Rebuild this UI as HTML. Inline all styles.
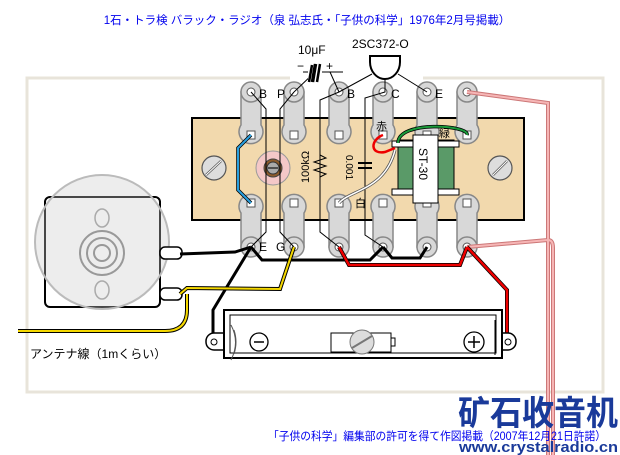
<!DOCTYPE html>
<html><head><meta charset="utf-8"><style>
body{margin:0;background:#fff;width:620px;height:455px;overflow:hidden}
svg{display:block}
text{font-family:"Liberation Sans","Noto Sans CJK JP",sans-serif}
</style></head><body>
<svg width="620" height="455" viewBox="0 0 620 455" xmlns="http://www.w3.org/2000/svg">
<text x="307" y="24" font-size="11.5" fill="#0000ee" text-anchor="middle" font-family="Liberation Sans,Noto Sans CJK JP,sans-serif">1石・トラ検 バラック・ラジオ（泉 弘志氏・「子供の科学」1976年2月号掲載）</text>
<path d="M290 78 H27 V392 H603 V78 H423" fill="none" stroke="#e8e4da" stroke-width="3"/>
<rect x="192" y="118" width="332" height="102" fill="#f2d9ad" stroke="#000" stroke-width="2"/>
<g stroke="#555" stroke-width="1.2" fill="#ddd">
<circle cx="214" cy="168" r="12"/><line x1="206" y1="175" x2="221" y2="161" stroke-width="2.5"/><line x1="206" y1="175" x2="221" y2="161" stroke="#fff" stroke-width="1"/>
<circle cx="500" cy="168" r="12"/><line x1="493" y1="175" x2="507" y2="161" stroke-width="2.5"/><line x1="493" y1="175" x2="507" y2="161" stroke="#fff" stroke-width="1"/>
</g>
<g>
<g stroke="#888" stroke-width="1.5" fill="#d8d8d8">
<path d="M241 92 H261 V125 A12 12 0 1 1 241 125 Z M241 247 H261 V213 A12 12 0 1 0 241 213 Z"/>
<path d="M284 92 H304 V125 A12 12 0 1 1 284 125 Z M284 247 H304 V213 A12 12 0 1 0 284 213 Z"/>
<path d="M329 92 H349 V125 A12 12 0 1 1 329 125 Z M329 247 H349 V213 A12 12 0 1 0 329 213 Z"/>
<path d="M373 92 H393 V125 A12 12 0 1 1 373 125 Z M373 247 H393 V213 A12 12 0 1 0 373 213 Z"/>
<path d="M417 92 H437 V125 A12 12 0 1 1 417 125 Z M417 247 H437 V213 A12 12 0 1 0 417 213 Z"/>
<path d="M457 92 H477 V125 A12 12 0 1 1 457 125 Z M457 247 H477 V213 A12 12 0 1 0 457 213 Z"/>
</g>
<g fill="#d8d8d8" stroke="#888" stroke-width="1.5">
<circle cx="251" cy="92" r="10"/><circle cx="294" cy="92" r="10"/><circle cx="339" cy="92" r="10"/><circle cx="383" cy="92" r="10"/><circle cx="427" cy="92" r="10"/><circle cx="467" cy="92" r="10"/>
<circle cx="251" cy="247" r="10"/><circle cx="294" cy="247" r="10"/><circle cx="339" cy="247" r="10"/><circle cx="383" cy="247" r="10"/><circle cx="427" cy="247" r="10"/><circle cx="467" cy="247" r="10"/>
</g>
<g fill="#fff" stroke="#555" stroke-width="1">
<circle cx="251" cy="92" r="4"/><circle cx="294" cy="92" r="4"/><circle cx="339" cy="92" r="4"/><circle cx="383" cy="92" r="4"/><circle cx="427" cy="92" r="4"/><circle cx="467" cy="92" r="4"/>
<circle cx="251" cy="247" r="4"/><circle cx="294" cy="247" r="4"/><circle cx="339" cy="247" r="4"/><circle cx="383" cy="247" r="4"/><circle cx="427" cy="247" r="4"/><circle cx="467" cy="247" r="4"/>
<rect x="247" y="131" width="8" height="8"/><rect x="290" y="131" width="8" height="8"/><rect x="335" y="131" width="8" height="8"/><rect x="379" y="131" width="8" height="8"/><rect x="423" y="131" width="8" height="8"/><rect x="463" y="131" width="8" height="8"/>
<rect x="247" y="199" width="8" height="8"/><rect x="290" y="199" width="8" height="8"/><rect x="335" y="199" width="8" height="8"/><rect x="379" y="199" width="8" height="8"/><rect x="423" y="199" width="8" height="8"/><rect x="463" y="199" width="8" height="8"/>
</g>
</g>
<g font-size="12" fill="#000">
<text x="259" y="98">B</text><text x="277" y="98">P</text><text x="347" y="98">B</text><text x="391" y="98">C</text><text x="435" y="98">E</text>
<text x="259" y="251">E</text><text x="276" y="251">G</text>
<text x="298" y="54" font-size="12">10μF</text>
<text x="352" y="48" font-size="12">2SC372-O</text>
</g>
<circle cx="273" cy="168" r="17" fill="#f4c8c8" stroke="#999"/>
<circle cx="273" cy="168" r="9" fill="#8b5a2b" stroke="#444"/>
<circle cx="273" cy="168" r="6" fill="#aaa" stroke="#333"/>
<line x1="268" y1="168" x2="278" y2="168" stroke="#333" stroke-width="1.5"/>
<g fill="none" stroke="#000" stroke-width="1">
<path d="M251 92 L266 109 V232 L251 247"/>
<path d="M294 92 L280 109 V232 L294 247"/>
<path d="M315 72 L294 92"/><path d="M330 72 L339 92"/>
<path d="M372 74 L339 92 L320 100 V232 L339 247"/>
<path d="M385 80 V92 L365 98 V235 L383 247"/>
<path d="M398 74 L427 92"/>
</g>
<path d="M320 155 L326 158 L314 162 L326 166 L314 170 L326 174 L320 177" fill="none" stroke="#000"/>
<text font-size="11" transform="translate(309,183) rotate(-90)">100kΩ</text>
<rect x="358" y="162" width="14" height="2" fill="#000"/><rect x="358" y="167" width="14" height="2" fill="#000"/>
<text font-size="10" transform="translate(346,155) rotate(90)">0.001</text>
<path d="M303 72 H343" stroke="#000"/>
<rect x="308" y="65" width="14" height="14" fill="#fff"/>
<path d="M312 65 L309 82 M316 64 L313 82 M320 64 L317 82 M315 64 L312 82" stroke="#000" stroke-width="2.5"/>
<text x="297" y="70" font-size="12">−</text><text x="326" y="70" font-size="12">+</text>
<path d="M370 56 H400 V62 A15 17 0 0 1 370 62 Z" fill="#fff" stroke="#000" stroke-width="2"/>
<rect x="398" y="140" width="56" height="53" fill="#5a9a68" stroke="#000"/>
<rect x="392" y="141" width="67" height="6" fill="#fff" stroke="#000"/>
<rect x="392" y="189" width="67" height="6" fill="#fff" stroke="#000"/>
<rect x="413" y="135" width="25" height="68" fill="#fff" stroke="#000"/>
<text font-size="12" transform="translate(419,148) rotate(90)">ST-30</text>
<text x="376" y="130" font-size="11">赤</text><text x="439" y="137" font-size="11">緑</text><text x="355" y="207" font-size="11">白</text>
<path d="M251 135 L238 148 V190 L251 203" fill="none" stroke="#000" stroke-width="3.5"/>
<path d="M251 135 L238 148 V190 L251 203" fill="none" stroke="#2aa0e0" stroke-width="2"/>
<path d="M383 135 C370 140 370 155 385 152 L395 148" fill="none" stroke="#e00" stroke-width="2.5"/>
<path d="M398 143 C398 120 470 125 467 135" fill="none" stroke="#000" stroke-width="3.5"/>
<path d="M398 143 C398 120 470 125 467 135" fill="none" stroke="#1a9a3a" stroke-width="2"/>
<path d="M339 203 C350 190 385 190 395 150" fill="none" stroke="#555" stroke-width="3"/>
<path d="M339 203 C350 190 385 190 395 150" fill="none" stroke="#fff" stroke-width="1.5"/>
<g fill="none"><path d="M467 92 L548 103 V455 M467 247 L548 240 Q553 240 553 248 V455" stroke="#c77" stroke-width="4"/>
<path d="M467 92 L548 103 V455 M467 247 L548 240 Q553 240 553 248 V455" stroke="#f6b6b6" stroke-width="2"/></g>
<rect x="45" y="197" width="115" height="110" rx="5" fill="#fff" stroke="#000" stroke-width="2"/>
<circle cx="102" cy="242" r="67" fill="#ccc" fill-opacity="0.35" stroke="#bbb" stroke-width="2"/>
<ellipse cx="102" cy="218" rx="7" ry="9" fill="none" stroke="#aaa" stroke-width="1.5"/>
<ellipse cx="102" cy="290" rx="7" ry="9" fill="none" stroke="#aaa" stroke-width="1.5"/>
<circle cx="102" cy="253" r="22" fill="none" stroke="#999" stroke-width="2"/>
<circle cx="102" cy="253" r="15" fill="none" stroke="#999" stroke-width="2"/>
<circle cx="102" cy="253" r="8" fill="none" stroke="#999" stroke-width="2"/>
<rect x="160" y="247" width="22" height="12" rx="5" fill="#fff" stroke="#000" stroke-width="1.5"/>
<rect x="160" y="288" width="22" height="12" rx="5" fill="#fff" stroke="#000" stroke-width="1.5"/>
<g fill="none" stroke="#000" stroke-width="3">
<path d="M180 254 L235 252 L251 247"/>
<path d="M251 247 L262 260 H370 L383 247"/>
<path d="M383 247 L392 258 H420 L427 247"/>
<path d="M251 247 L225 290 L213 310 V340"/>
</g>
<g fill="none" stroke="#000" stroke-width="4"><path d="M180 294 L187 288 L280 289 L294 247"/><path d="M18 331 H165 Q187 331 187 310 L187 294"/></g>
<g fill="none" stroke="#f5d800" stroke-width="2"><path d="M180 294 L187 288 L280 289 L294 247"/><path d="M18 331 H165 Q187 331 187 310 L187 294"/></g>
<g fill="none" stroke="#000" stroke-width="4"><path d="M339 247 L349 265 H460 L467 247"/><path d="M467 247 L507 290 V340"/></g>
<g fill="none" stroke="#e00" stroke-width="2.5"><path d="M339 247 L349 265 H460 L467 247"/><path d="M467 247 L507 290 V340"/></g>
<rect x="206" y="333" width="310" height="17" rx="8" fill="#fff" stroke="#000" stroke-width="1.5"/>
<rect x="224" y="310" width="278" height="48" fill="#fff" stroke="#000" stroke-width="2"/>
<rect x="230" y="315" width="266" height="38" fill="#fff" stroke="#000" stroke-width="1"/>
<circle cx="214" cy="342" r="3" fill="#fff" stroke="#000"/><circle cx="508" cy="342" r="3" fill="#fff" stroke="#000"/>
<path d="M231 325 Q240 342 231 360 M234 330 Q238 342 234 354" fill="none" stroke="#555"/>
<circle cx="259" cy="342" r="9" fill="#fff" stroke="#000" stroke-width="1.3"/><line x1="254" y1="342" x2="264" y2="342" stroke="#000" stroke-width="1.5"/>
<circle cx="474" cy="342" r="10" fill="#fff" stroke="#000" stroke-width="1.3"/><path d="M468 342 H480 M474 336 V348" stroke="#000" stroke-width="1.5"/>
<rect x="331" y="333" width="60" height="19" fill="#fff" stroke="#000"/><rect x="391" y="338" width="4" height="8" fill="#fff" stroke="#000"/>
<circle cx="362" cy="342" r="12" fill="#ddd" stroke="#777"/><line x1="352" y1="348" x2="372" y2="336" stroke="#777" stroke-width="2"/>
<line x1="495" y1="320" x2="495" y2="355" stroke="#000"/>
<text x="30" y="358" font-size="12">アンテナ線（1mくらい）</text>
<text x="458" y="425" font-size="34" font-weight="bold" fill="#1a3a9a" font-family="Liberation Sans,Noto Sans CJK SC,sans-serif" textLength="160" lengthAdjust="spacingAndGlyphs">矿石收音机</text>
<text x="268" y="440" font-size="11.5" fill="#0000ee" textLength="338" lengthAdjust="spacingAndGlyphs">「子供の科学」編集部の許可を得て作図掲載（2007年12月21日許諾）</text>
<text x="459" y="452" font-size="15" font-weight="bold" fill="#1a3a9a" textLength="159" lengthAdjust="spacingAndGlyphs">www.crystalradio.cn</text>
</svg>
</body></html>
